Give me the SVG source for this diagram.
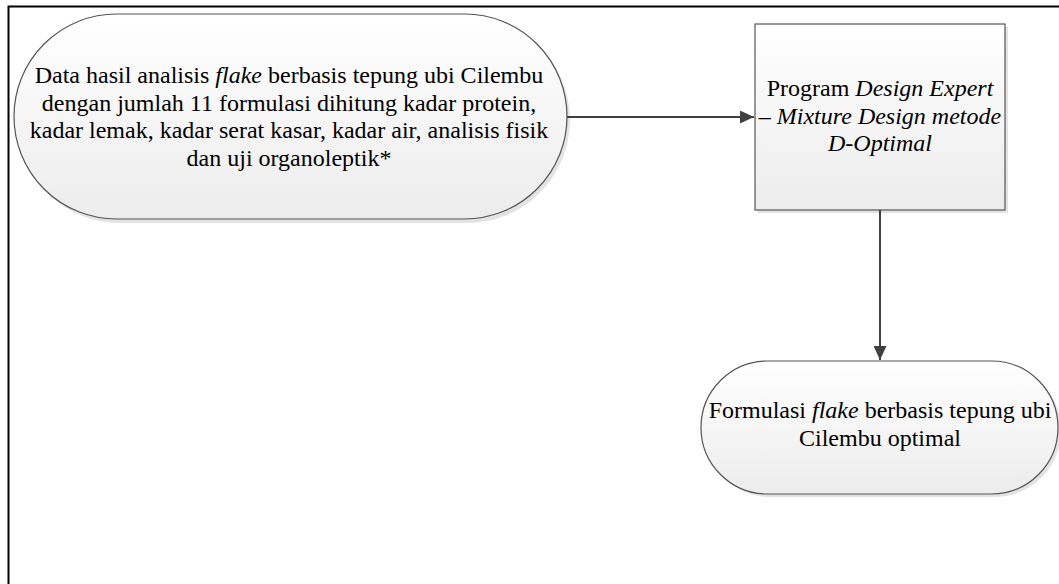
<svg xmlns="http://www.w3.org/2000/svg" width="1059" height="584" viewBox="0 0 1059 584">
<defs>
<linearGradient id="g" x1="0" y1="0" x2="0" y2="1">
<stop offset="0" stop-color="#ffffff"/>
<stop offset="1" stop-color="#ececec"/>
</linearGradient>
<marker id="ah" markerWidth="14" markerHeight="13" viewBox="0 0 14 13" refX="14" refY="6.5" orient="auto" markerUnits="userSpaceOnUse">
<path d="M0,0 L14,6.5 L0,13 z" fill="#404040"/>
</marker>
</defs>
<style>
.shape{fill:url(#g);stroke:#555;stroke-width:1.2}
.shadow{fill:#e3e3e3;stroke:none}
.t{font-family:"Liberation Serif","Times New Roman",serif;font-size:24px;fill:#000;text-anchor:middle}
.i{font-style:italic}
.conn{stroke:#404040;stroke-width:2;fill:none}
</style>
<rect x="0" y="0" width="1059" height="584" fill="#fff"/>
<path d="M8.5,584 V6.5 H1059" fill="none" stroke="#000" stroke-width="2"/>
<g id="node-data">
<rect class="shadow" x="17" y="17" width="553" height="206" rx="103" ry="103"/>
<rect class="shape" x="14" y="14" width="553" height="205" rx="102.5" ry="102.5"/>
<text class="t" x="289" y="83">Data hasil analisis <tspan class="i">flake</tspan> berbasis tepung ubi Cilembu</text>
<text class="t" x="289" y="110.5">dengan jumlah 11 formulasi dihitung kadar protein,</text>
<text class="t" x="289" y="138">kadar lemak, kadar serat kasar, kadar air, analisis fisik</text>
<text class="t" x="289" y="165.5">dan uji organoleptik*</text>
</g>
<g id="node-program">
<rect class="shadow" x="758" y="27" width="250" height="186"/>
<rect class="shape" x="755" y="24" width="250" height="186"/>
<text class="t" x="880" y="96">Program <tspan class="i">Design Expert</tspan></text>
<text class="t i" x="880" y="123.5">– Mixture Design metode</text>
<text class="t i" x="880" y="151">D-Optimal</text>
</g>
<g id="node-result">
<rect class="shadow" x="704" y="364" width="357" height="133" rx="66.5" ry="66.5"/>
<rect class="shape" x="701" y="361" width="357" height="133" rx="66.5" ry="66.5"/>
<text class="t" x="880" y="418">Formulasi <tspan class="i">flake</tspan> berbasis tepung ubi</text>
<text class="t" x="880" y="445.5">Cilembu optimal</text>
</g>
<g id="connectors">
<line class="conn" x1="567" y1="117" x2="754" y2="117" marker-end="url(#ah)"/>
<line class="conn" x1="880" y1="210" x2="880" y2="360" marker-end="url(#ah)"/>
</g>
</svg>
